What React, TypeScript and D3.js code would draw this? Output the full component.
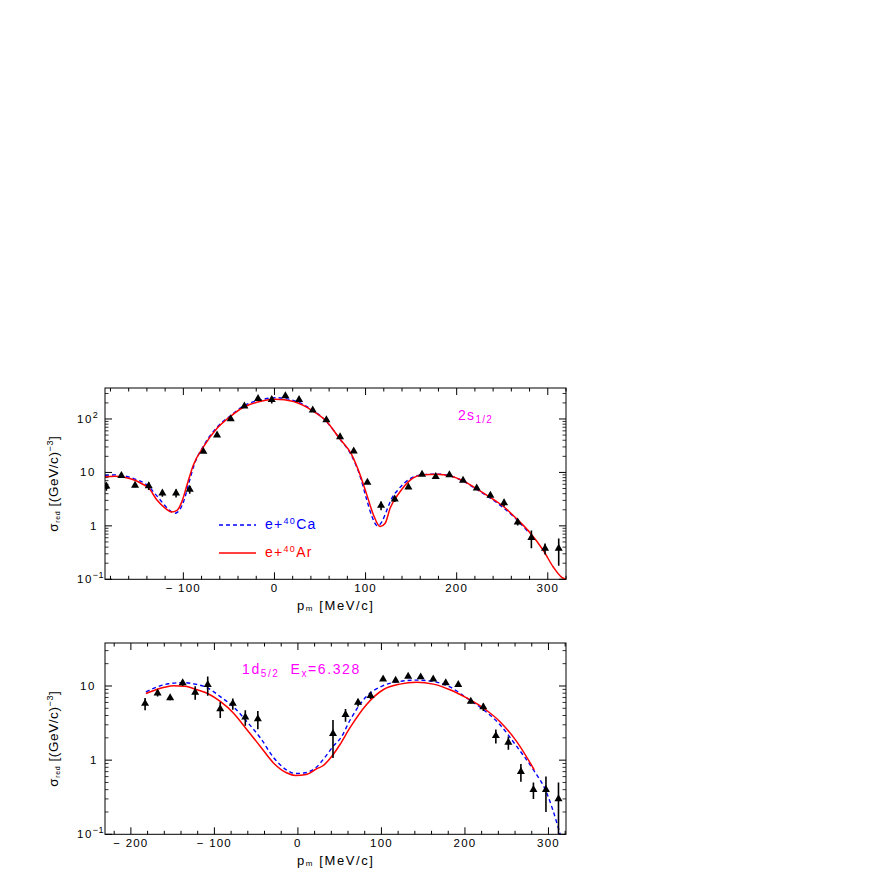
import React from 'react';
import * as d3 from 'd3';

// ---------- Top panel (2s1/2) ----------
const topDataP = [-184.5,-168,-153,-138,-123,-108,-93,-78,-63,-48,-33,-18,-3,12,27,42,57,72,87,102,117,132,147,162,177,192,207,222,237,252,267,282,297,312];
const topDataV = [5.5,8.7,5.7,5.6,4.1,4.1,4.8,24.6,50,100,174,240,229,270,230,146,96,46,25,6.5,2.4,3.15,5.3,9.2,8.3,9.0,7.1,5.06,3.7,2.7,1.17,0.6,0.38,0.38];
const topDataE = [0.95,0.5,0.4,0.9,0.6,0.7,0.8,1.5,2,5,8,10,35,12,10,6,4,2,1,0.4,0.45,0.35,0.3,0.4,0.4,0.4,0.35,0.3,0.3,0.4,0.15,0.22,0.09,0.2];

const topArP = [-186,-175,-165,-154,-146,-138,-129,-120,-113,-107,-101.6,-96,-89,-78,-63,-48.6,-34,-16,1,21,43,57.5,71,85,94,101.4,108.7,116,121.5,127,138,149,163.6,178,193,207.5,222,237,251.4,266,281,295,306,315,320];
const topArV = [8.3,8.5,8.1,7.2,6.2,5.1,3.05,2.15,1.82,1.95,2.84,5.8,13.8,30,67,111,166,212,235,212,138,89,44,21,9,3.8,1.6,0.97,1.12,2.15,4.4,7.2,9.0,9.2,8.6,6.9,4.9,3.4,2.3,1.35,0.73,0.35,0.17,0.11,0.1];

const topCaP = [-186,-175,-165,-154,-140,-130,-122,-115,-109,-104,-99,-94,-88,-78,-63,-48,-34,-16,1,21,43,57,71,85,94,101,107,113,118,123,128,135,142,150,163,178,193,207,222,237,251,266,280];
const topCaV = [8.8,9.0,8.6,7.6,5.8,3.8,2.6,1.95,1.72,2.0,3.1,6.3,14,31,70,116,175,225,250,222,142,90,44,20,8.5,3.2,1.5,1.0,1.2,1.9,3.1,4.6,6.2,7.8,9.1,9.3,8.6,6.9,4.8,3.3,2.2,1.3,0.72];

// ---------- Bottom panel (1d5/2) ----------
const botDataP = [-183,-168,-153,-138,-123,-108,-93,-78,-63,-48,42,57,72,87,102,117,132,147,162,177,192,207,222,237,252,267,282,297,312];
const botDataV = [5.8,8.0,6.9,11,8.2,10.4,4.9,5.8,3.8,3.6,2.27,4.1,6.0,7.4,12.4,11.9,13.5,13.2,12.4,11,10.4,6.2,5.2,2.13,1.73,0.70,0.40,0.40,0.30];
const botDataE = [1.1,0.8,0.5,1.0,1.7,3,1.2,1.0,0.9,1.0,1.2,0.8,0.7,0.7,0.6,0.6,0.6,0.6,0.6,0.6,0.5,0.4,0.6,0.45,0.35,0.19,0.1,0.2,0.2];

const botArP = [-182,-170,-160,-149,-135,-121,-107,-93,-77,-61,-45,-29,-13,-3,10,22,30,42,50,62,82,102,122,142,162,182,202,222,242,262,283];
const botArV = [7.9,8.9,9.6,10.1,9.9,8.9,7.8,6.2,4.3,2.57,1.53,0.91,0.67,0.62,0.64,0.76,0.84,1.18,1.6,2.7,5.6,8.9,10.6,11.2,10.6,8.9,6.9,5.05,3.3,1.78,0.74];

const botCaP = [-182,-170,-155,-137,-123,-109,-93,-77,-61,-45,-29,-13,-3,7,22,32,42,52,62,82,102,122,142,162,182,202,222,242,262,282,298,306,313,318];
const botCaV = [8.3,9.6,10.7,11.1,10.6,9.5,7.2,5.2,3.3,2.0,1.08,0.73,0.66,0.67,0.8,1.08,1.53,2.05,3.4,7.2,10.1,11.5,12.0,11.5,9.7,6.9,4.8,3.0,1.53,0.74,0.36,0.2,0.11,0.07];

const xMajorTicks = [-200, -100, 0, 100, 200, 300];
const topYLabels = [
  { v: 0.1, base: '10', sup: '−1' },
  { v: 1, base: '1', sup: '' },
  { v: 10, base: '10', sup: '' },
  { v: 100, base: '10', sup: '2' },
];
const botYLabels = [
  { v: 0.1, base: '10', sup: '−1' },
  { v: 1, base: '1', sup: '' },
  { v: 10, base: '10', sup: '' },
];

const FONT = '"Liberation Sans", Arial, Helvetica, sans-serif';
const RED = '#ff0000';
const BLUE = '#0000ff';
const MAGENTA = '#ff00ff';

type PanelProps = {
  id: string;
  top: number;
  bottom: number;
  xDomain: [number, number];
  yDomain: [number, number];
  dataP: number[]; dataV: number[]; dataE: number[];
  arP: number[]; arV: number[];
  caP: number[]; caV: number[];
  yLabels: { v: number; base: string; sup: string }[];
  children?: React.ReactNode;
};

const LEFT = 105;
const RIGHT = 566;

function Panel(p: PanelProps) {
  const x = d3.scaleLinear().domain(p.xDomain).range([LEFT, RIGHT]);
  const y = d3.scaleLog().domain(p.yDomain).range([p.bottom, p.top]);
  const line = d3.line<[number, number]>()
    .x(d => x(d[0]))
    .y(d => y(d[1]))
    .curve(d3.curveMonotoneX);
  const arPts = p.arP.map((v, i) => [v, p.arV[i]] as [number, number]);
  const caPts = p.caP.map((v, i) => [v, p.caV[i]] as [number, number]);

  const xMinor = d3.range(-300, 400, 20).filter(v => v >= p.xDomain[0] && v <= p.xDomain[1] && v % 100 !== 0);
  const xMajor = xMajorTicks.filter(v => v >= p.xDomain[0] && v <= p.xDomain[1]);
  const yMajor: number[] = [];
  const yMinor: number[] = [];
  for (let e = -2; e <= 3; e++) {
    const base = Math.pow(10, e);
    if (base >= p.yDomain[0] && base <= p.yDomain[1]) yMajor.push(base);
    for (let k = 2; k <= 9; k++) {
      const v = k * base;
      if (v > p.yDomain[0] && v < p.yDomain[1]) yMinor.push(v);
    }
  }
  const tri = d3.symbol().type(d3.symbolTriangle).size(28)() as string;
  const clip = `clip-${p.id}`;
  const cy = (p.top + p.bottom) / 2;
  const labelY = p.bottom + 13;

  return (
    <g>
      <defs>
        <clipPath id={clip}>
          <rect x={LEFT} y={p.top} width={RIGHT - LEFT} height={p.bottom - p.top} />
        </clipPath>
      </defs>
      {/* ticks */}
      <g stroke="#000" strokeWidth={1}>
        {xMajor.map(v => (
          <g key={'xM' + v}>
            <line x1={x(v)} x2={x(v)} y1={p.bottom} y2={p.bottom - 7} />
            <line x1={x(v)} x2={x(v)} y1={p.top} y2={p.top + 7} />
          </g>
        ))}
        {xMinor.map(v => (
          <g key={'xm' + v}>
            <line x1={x(v)} x2={x(v)} y1={p.bottom} y2={p.bottom - 3.5} />
            <line x1={x(v)} x2={x(v)} y1={p.top} y2={p.top + 3.5} />
          </g>
        ))}
        {yMajor.map(v => (
          <g key={'yM' + v}>
            <line x1={LEFT} x2={LEFT + 7} y1={y(v)} y2={y(v)} />
            <line x1={RIGHT} x2={RIGHT - 7} y1={y(v)} y2={y(v)} />
          </g>
        ))}
        {yMinor.map(v => (
          <g key={'ym' + v}>
            <line x1={LEFT} x2={LEFT + 3.5} y1={y(v)} y2={y(v)} strokeWidth={0.8} />
            <line x1={RIGHT} x2={RIGHT - 3.5} y1={y(v)} y2={y(v)} strokeWidth={0.8} />
          </g>
        ))}
      </g>
      {/* curves */}
      <g clipPath={`url(#${clip})`}>
        <path d={line(caPts) || ''} fill="none" stroke={BLUE} strokeWidth={1.4} strokeDasharray="4,3" />
        <path d={line(arPts) || ''} fill="none" stroke={RED} strokeWidth={1.5} />
        {p.dataP.map((pv, i) => {
          const v = p.dataV[i];
          const e = p.dataE[i];
          const lo = Math.max(v - e, 1e-3);
          return (
            <g key={'d' + i}>
              <line x1={x(pv)} x2={x(pv)} y1={y(lo)} y2={y(v + e)} stroke="#000" strokeWidth={1.6} />
              <path d={tri} transform={`translate(${x(pv)},${y(v)})`} fill="#000" />
            </g>
          );
        })}
      </g>
      {/* frame */}
      <rect x={LEFT} y={p.top} width={RIGHT - LEFT} height={p.bottom - p.top} fill="none" stroke="#000" strokeWidth={1} />
      {/* x tick labels */}
      <g fontFamily={FONT} fontSize={11.5} letterSpacing={1.2} fill="#000">
        {xMajor.map(v => (
          <text key={'xl' + v} x={x(v)} y={labelY} textAnchor="middle">
            {v < 0 ? '− ' + Math.abs(v) : String(v)}
          </text>
        ))}
      </g>
      {/* y tick labels */}
      <g fontFamily={FONT} fontSize={11.5} letterSpacing={1.5} fill="#000">
        {p.yLabels.map(l => (
          <text key={'yl' + l.v} x={l.base === '1' ? 90 : (l.sup ? 77 : 80)} y={y(l.v) + 4} textAnchor="start">
            {l.base}
            {l.sup ? <tspan dy={-5} fontSize={9} letterSpacing={0.5}>{l.sup}</tspan> : null}
          </text>
        ))}
      </g>
      {/* axis titles */}
      <text transform={`translate(58,${cy}) rotate(-90)`} textAnchor="middle" fontFamily={FONT} fontSize={13.5} letterSpacing={0.6} fill="#000">
        σ<tspan fontSize={7} dy={2}>red</tspan><tspan dy={-2}> [(GeV/c)</tspan><tspan fontSize={9} dy={-5}>−3</tspan><tspan dy={5}>]</tspan>
      </text>
      <text x={297} y={p.bottom + 31} fontFamily={FONT} fontSize={13} letterSpacing={1.6} fill="#000">
        p<tspan fontSize={8} dy={1}>m</tspan><tspan dy={-1}> [MeV/c]</tspan>
      </text>
      {p.children}
    </g>
  );
}

export default function App() {
  return (
    <svg width={872} height={872} style={{ position: 'absolute', left: 0, top: 0, background: '#fff' }}>
      <rect x={0} y={0} width={872} height={872} fill="#fff" />
      <Panel id="top" top={388} bottom={579.3} xDomain={[-186, 320]} yDomain={[0.1, 380]}
        dataP={topDataP} dataV={topDataV} dataE={topDataE}
        arP={topArP} arV={topArV} caP={topCaP} caV={topCaV} yLabels={topYLabels}>
        <text x={458} y={420} fontFamily={FONT} fontSize={14} letterSpacing={1.3} fill={MAGENTA}>
          2s<tspan fontSize={10} dy={3}>1/2</tspan>
        </text>
        <line x1={219} x2={256} y1={525} y2={525} stroke={BLUE} strokeWidth={1.4} strokeDasharray="4,3" />
        <text x={265} y={529} fontFamily={FONT} fontSize={14} letterSpacing={1.3} fill={BLUE}>
          e+<tspan fontSize={9} dy={-5}>40</tspan><tspan dy={5}>Ca</tspan>
        </text>
        <line x1={219} x2={256} y1={553} y2={553} stroke={RED} strokeWidth={1.5} />
        <text x={265} y={557} fontFamily={FONT} fontSize={14} letterSpacing={1.3} fill={RED}>
          e+<tspan fontSize={9} dy={-5}>40</tspan><tspan dy={5}>Ar</tspan>
        </text>
      </Panel>
      <Panel id="bot" top={643} bottom={834.3} xDomain={[-231, 321]} yDomain={[0.1, 38]}
        dataP={botDataP} dataV={botDataV} dataE={botDataE}
        arP={botArP} arV={botArV} caP={botCaP} caV={botCaV} yLabels={botYLabels}>
        <text x={242} y={674} fontFamily={FONT} fontSize={14} letterSpacing={1.6} fill={MAGENTA}>
          1d<tspan fontSize={10} dy={3}>5/2</tspan><tspan dy={-3}>{'\u00a0\u00a0'}E</tspan><tspan fontSize={10} dy={3}>x</tspan><tspan dy={-3}>=6.328</tspan>
        </text>
      </Panel>
    </svg>
  );
}
